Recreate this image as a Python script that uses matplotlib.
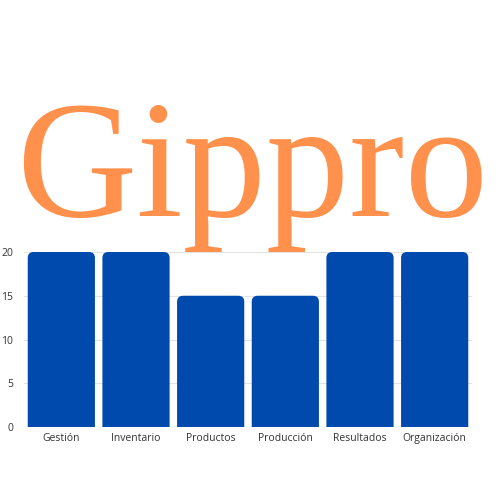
import matplotlib
matplotlib.use('Agg')
import matplotlib.pyplot as plt
from matplotlib.patches import FancyBboxPatch

# data
categories = ['Gestión', 'Inventario', 'Productos', 'Producción', 'Resultados', 'Organización']
values = [20, 20, 15, 15, 20, 20]
y_ticks = [0, 5, 10, 15, 20]

bar_color = '#004AAD'
title_color = '#FF914D'

fig = plt.figure(figsize=(5, 5), dpi=100)
ax = fig.add_axes([0.048, 0.146, 0.896, 0.35])

# big title behind the chart
fig.text(0.504, 1 - 216 / 500, 'Gippro', ha='center', va='baseline',
         fontsize=120, color=title_color, family='Liberation Serif', zorder=0)

bars = ax.bar(range(len(categories)), values, width=0.9, color='none')
# round the top corners: draw a rounded box that runs below zero, axes clips it
for b in bars:
    x, w, h = b.get_x(), b.get_width(), b.get_height()
    p = FancyBboxPatch((x, -2), w, h + 2,
                       boxstyle='round,pad=0,rounding_size=0.08',
                       mutation_aspect=8.5, facecolor=bar_color,
                       edgecolor='none', zorder=3)
    ax.add_patch(p)

ax.set_xlim(-0.5, len(categories) - 0.5)
ax.set_ylim(0, 20)
ax.set_yticks(y_ticks)
ax.set_xticks(range(len(categories)))
ax.set_xticklabels(categories)
ax.yaxis.grid(True, color='#E3E3E3', linewidth=0.8, zorder=0)
ax.set_axisbelow(True)
for s in ax.spines.values():
    s.set_visible(False)
ax.tick_params(length=0, labelsize=7.5, labelcolor='#333333', pad=4)
ax.tick_params(axis='y', pad=8)
for lbl in ax.get_xticklabels() + ax.get_yticklabels():
    lbl.set_family('Open Sans')
ax.patch.set_alpha(0)

fig.savefig('out.png', dpi=100)
